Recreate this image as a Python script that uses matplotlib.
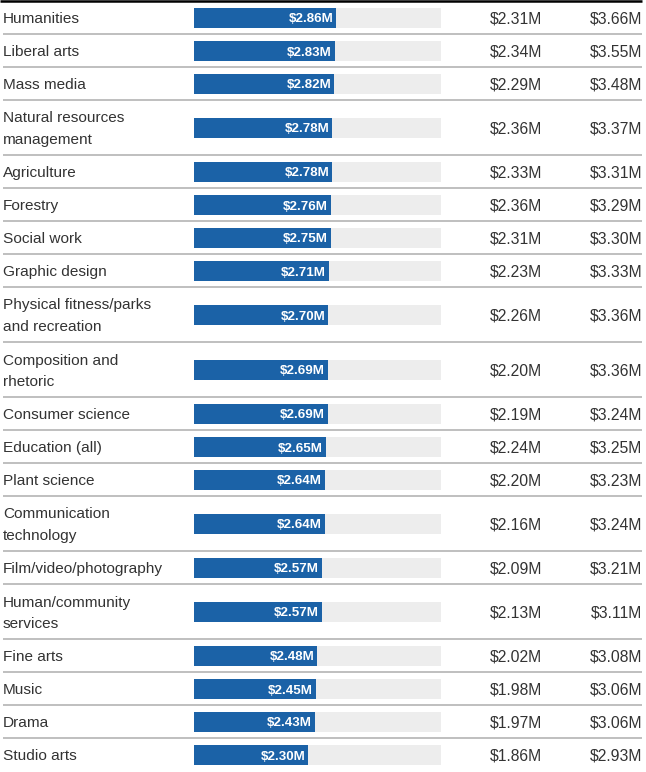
import matplotlib
matplotlib.use("Agg")
import matplotlib.pyplot as plt

categories = [
    "Humanities", "Liberal arts", "Mass media", "Natural resources\nmanagement",
    "Agriculture", "Forestry", "Social work", "Graphic design",
    "Physical fitness/parks\nand recreation", "Composition and\nrhetoric",
    "Consumer science", "Education (all)", "Plant science",
    "Communication\ntechnology", "Film/video/photography",
    "Human/community\nservices", "Fine arts", "Music", "Drama", "Studio arts",
]
median = [2.86, 2.83, 2.82, 2.78, 2.78, 2.76, 2.75, 2.71, 2.70, 2.69,
          2.69, 2.65, 2.64, 2.64, 2.57, 2.57, 2.48, 2.45, 2.43, 2.30]
low = [2.31, 2.34, 2.29, 2.36, 2.33, 2.36, 2.31, 2.23, 2.26, 2.20,
       2.19, 2.24, 2.20, 2.16, 2.09, 2.13, 2.02, 1.98, 1.97, 1.86]
high = [3.66, 3.55, 3.48, 3.37, 3.31, 3.29, 3.30, 3.33, 3.36, 3.36,
        3.24, 3.25, 3.23, 3.24, 3.21, 3.11, 3.08, 3.06, 3.06, 2.93]
scale_max = 4.97

W, H = 646, 772
DPI = 100
BAR_COLOR = "#1b62a7"
BG_COLOR = "#ededed"
TXT = "#333333"
SEP = "#b4b4b4"
FONT = "Liberation Sans"
FS = 11.1

fig = plt.figure(figsize=(W / DPI, H / DPI), dpi=DPI)
ax = fig.add_axes([0, 0, 1, 1])
ax.set_xlim(0, W)
ax.set_ylim(H, 0)
ax.axis("off")

# row layout (pixel units)
heights = [55 if "\n" in c else 33 for c in categories]
top = 1
centers = []
seps = []
y = top
for h in heights:
    centers.append(y + h / 2)
    y += h
    seps.append(y)

bx0, bx1 = 194, 441
bax = fig.add_axes([bx0 / W, 0, (bx1 - bx0) / W, 1])
bax.set_xlim(0, scale_max)
bax.set_ylim(H, 0)
bax.axis("off")
bax.patch.set_alpha(0)

bar_y = [c + 0.5 for c in centers]
bax.barh(bar_y, [scale_max] * len(categories), height=20, color=BG_COLOR, left=0)
bax.barh(bar_y, median, height=20, color=BAR_COLOR)

for c, m, lo, hi, cy in zip(categories, median, low, high, centers):
    bax.annotate(f"${m:.2f}M", xy=(m, cy + 0.5), xytext=(-2.2, 0), textcoords="offset points",
                 ha="right", va="center_baseline", color="white", fontsize=9.6,
                 fontweight="bold", family=FONT)
    lines = c.split("\n")
    if len(lines) == 1:
        ax.text(3, cy, lines[0], ha="left", va="center_baseline", fontsize=FS, color=TXT, family=FONT)
    else:
        ax.text(3, cy - 10.5, lines[0], ha="left", va="center_baseline", fontsize=FS, color=TXT, family=FONT)
        ax.text(3, cy + 11, lines[1], ha="left", va="center_baseline", fontsize=FS, color=TXT, family=FONT)
    ax.text(542, cy, f"${lo:.2f}M", ha="right", va="center_baseline", fontsize=11.3, color=TXT, family=FONT)
    ax.text(642, cy, f"${hi:.2f}M", ha="right", va="center_baseline", fontsize=11.3, color=TXT, family=FONT)

for s in seps[:-1]:
    ax.plot([3, 642], [s, s], color=SEP, lw=1.2, solid_capstyle="butt")
ax.plot([0, 642], [1, 1], color="black", lw=1.8, solid_capstyle="butt")

fig.savefig("out.png", dpi=DPI)
